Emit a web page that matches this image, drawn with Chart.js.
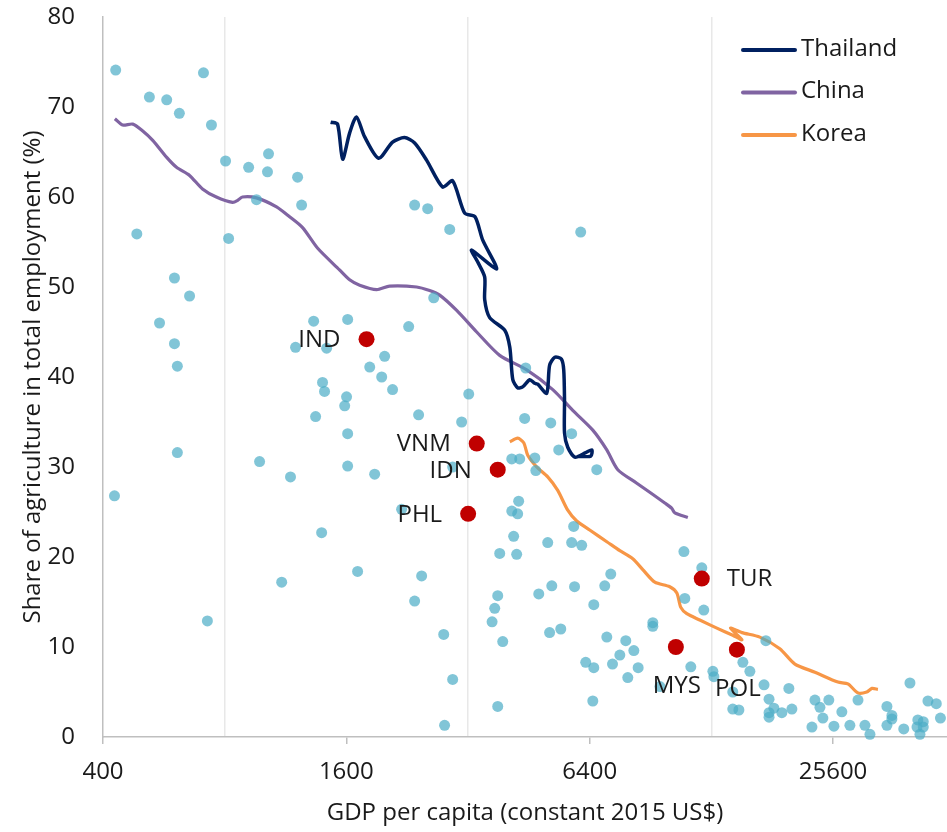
<!DOCTYPE html>
<html>
<head>
<meta charset="utf-8">
<script src="https://cdn.jsdelivr.net/npm/chart.js@4.4.1/dist/chart.umd.min.js"></script>
<style>
    html, body { margin: 0; padding: 0; background: #fff; overflow: hidden; }
    #wrap { width: 947px; height: 832px; position: relative; }
</style>
</head>
<body>
<div id="wrap"><canvas id="myChart"></canvas></div>
<script>
(function() {

    'use strict';

    // other economies (scatter)
    var otherGdp = [430, 521, 575, 618, 709, 742, 804, 917, 1027, 1021,
        1212, 1240, 959, 485, 818, 601, 655, 552, 601, 611,
        611, 427, 725, 1107, 976, 1164, 1328, 1612, 1198, 1430,
        1343, 1390, 1397, 1413, 1602, 1585, 1612, 1612, 1880, 2282,
        2632, 1990, 1828, 1957, 2082, 2415, 2192, 2361, 2543, 2883,
        6081, 3213, 3086, 2932, 4445, 4419, 5127, 5775, 5365, 4106,
        4295, 4682, 4709, 6663, 4270, 4106, 4246, 5842, 4150, 5039,
        5775, 6115, 3833, 4222, 1706, 2457, 2361, 2786, 2932, 2800,
        3790, 3790, 3726, 3670, 3900, 4788, 5157, 5871, 6973, 7216,
        6551, 5093, 5428, 7055, 6257, 6551, 7288, 6514, 10946, 12120,
        11003, 12258, 9170, 9170, 7861, 8230, 7599, 8435, 7951, 9550,
        11386, 12910, 12984, 15316, 15940, 17460, 17280, 17780, 18280, 17780,
        17780, 19125, 19906, 20250, 14460, 14973, 22700, 23090, 23760, 24990,
        24160, 25730, 26920, 28180, 29510, 30700, 31590, 34800, 35800, 35800,
        34800, 39680, 38300, 41500, 42800, 41300, 42800, 42000, 43960, 46100,
        47200, 14460];
    var otherAgri = [74.1, 71.1, 70.8, 69.3, 73.8, 68.0, 64.0, 63.3, 64.8, 62.8,
        62.2, 59.1, 59.7, 55.9, 55.4, 51.0, 49.0, 46.0, 43.7, 41.2,
        31.6, 26.8, 12.9, 17.2, 30.6, 28.9, 46.2, 46.4, 43.3, 43.2,
        35.6, 22.7, 39.4, 38.4, 37.8, 36.8, 33.7, 30.1, 29.2, 45.6,
        48.8, 42.3, 41.1, 40.0, 38.6, 35.8, 25.3, 59.1, 58.7, 56.4,
        56.1, 38.1, 35.0, 30.0, 41.0, 35.4, 34.9, 33.7, 31.9, 30.9,
        30.9, 31.0, 29.6, 29.7, 26.2, 25.1, 24.8, 23.4, 22.3, 21.6,
        21.6, 21.3, 20.4, 20.3, 18.4, 17.9, 15.1, 11.4, 6.4, 1.3,
        3.4, 15.7, 14.3, 12.8, 10.6, 15.9, 16.8, 16.7, 16.8, 18.1,
        14.7, 11.6, 12.0, 11.1, 8.3, 7.7, 8.1, 4.0, 20.6, 18.8,
        15.4, 14.1, 12.7, 12.3, 10.7, 9.6, 9.1, 7.7, 6.6, 5.6,
        7.8, 7.3, 6.7, 8.3, 7.3, 10.7, 5.8, 4.2, 3.2, 2.7,
        2.2, 2.7, 5.4, 3.1, 3.1, 3.0, 1.1, 4.1, 3.3, 4.1,
        2.1, 1.2, 2.8, 1.3, 4.1, 1.3, 0.3, 3.4, 2.4, 2.0,
        1.3, 6.0, 0.9, 1.9, 1.7, 1.1, 1.1, 0.3, 4.0, 3.7,
        2.1, 5.0];

    // highlighted economies
    var redCodes = ['IND', 'VNM', 'IDN', 'PHL', 'TUR', 'MYS', 'POL'];
    var redGdp = [1795, 3363, 3790, 3202, 12120, 10456, 14805];
    var redAgri = [44.2, 32.6, 29.7, 24.8, 17.6, 10.0, 9.7];

    // historical paths
    var thaiGdp = [1463, 1522, 1566, 1630, 1695, 1775, 1923, 2082, 2228, 2361,
        2527, 2770, 2932, 3140, 3330, 3480, 3768, 3265, 3380, 3519,
        3519, 3620, 3945, 4060, 4130, 4246, 4368, 4548, 4680, 4760,
        5010, 5093, 5246, 5446, 5520, 5545, 5545, 5648, 5880, 6257,
        6480, 6440, 6010];
    var thaiAgri = [68.3, 68.1, 64.2, 67.1, 68.9, 66.7, 64.3, 66.1, 66.6, 66.0,
        64.1, 61.1, 61.8, 58.2, 57.8, 55.2, 52.0, 54.1, 52.8, 51.1,
        48.6, 46.6, 45.2, 43.3, 39.7, 38.8, 38.9, 39.7, 39.3, 39.2,
        38.2, 41.3, 42.2, 42.0, 40.8, 37.4, 33.8, 32.2, 31.1, 31.6,
        31.9, 31.2, 31.2];

    var chinaGdp = [428, 447, 474, 500, 531, 575, 608, 655, 705, 763,
        837, 860, 885, 959, 1075, 1158, 1247, 1359, 1539, 1630,
        1726, 1902, 2047, 2388, 2572, 2723, 3000, 3362, 3833, 4471,
        5186, 5810, 6514, 7055, 7512, 8370, 9010, 9817, 10219, 10396,
        11194];
    var chinaAgri = [68.7, 68.0, 68.1, 67.4, 66.3, 64.4, 63.3, 62.4, 60.9, 60.0,
        59.4, 59.6, 60.0, 59.9, 58.9, 57.8, 56.6, 54.3, 51.9, 50.8,
        50.2, 49.7, 50.1, 50.0, 49.6, 49.1, 47.4, 45.0, 42.4, 40.8,
        38.6, 36.3, 34.1, 31.9, 29.7, 28.2, 27.2, 26.0, 25.4, 24.9,
        24.4];

    var koreaGdp = [4060, 4246, 4395, 4497, 4733, 5039, 5335, 5648, 5944, 6400,
        7055, 7599, 8180, 8659, 9276, 10100, 10515, 10755, 11130, 11983,
        13208, 14460, 15236, 14270, 15236, 16870, 18908, 20600, 23090, 26330,
        27860, 29510, 31020, 31950, 33060];
    var koreaAgri = [32.8, 33.2, 32.7, 31.3, 30.0, 28.9, 27.4, 25.2, 24.0, 23.0,
        21.7, 20.7, 19.8, 18.6, 17.2, 16.7, 16.0, 14.4, 13.7, 13.0,
        12.1, 11.3, 10.8, 12.1, 11.6, 11.1, 9.8, 8.1, 7.2, 6.1,
        5.9, 4.9, 5.0, 5.4, 5.3];

    var xTickValues = [400, 800, 1600, 3200, 6400, 12800, 25600];
    var xTickLabels = [400, 1600, 6400, 25600];
    var xGridValues = [800, 3200, 12800];

    // where each code label sits relative to its dot
    var labelPlacement = {
        IND: 'left', VNM: 'left', IDN: 'left', PHL: 'left',
        TUR: 'right', MYS: 'below', POL: 'below'
    };

    function points(xs, ys) {
        return xs.map(function(x, i) { return { x: x, y: ys[i] }; });
    }

    var textColor = '#1a1a1a';
    var fontFamily = "'Open Sans', sans-serif";
    Chart.defaults.font.family = fontFamily;
    Chart.defaults.color = textColor;

    var codeLabels = {
        id: 'codeLabels',
        afterDatasetsDraw: function(chart) {
            var ctx = chart.ctx;
            var meta = chart.getDatasetMeta(0);
            ctx.save();
            ctx.font = '24px ' + fontFamily;
            ctx.fillStyle = textColor;
            ctx.textBaseline = 'middle';
            meta.data.forEach(function(pt, i) {
                var code = redCodes[i];
                var where = labelPlacement[code];
                if (where === 'left') {
                    ctx.textAlign = 'right';
                    ctx.fillText(code, pt.x - 26, pt.y + 1);
                } else if (where === 'right') {
                    ctx.textAlign = 'left';
                    ctx.fillText(code, pt.x + 25, pt.y + 1);
                } else {
                    ctx.textAlign = 'center';
                    ctx.fillText(code, pt.x + 1, pt.y + 39);
                }
            });
            ctx.restore();
        }
    };

    var lineLegend = {
        id: 'lineLegend',
        afterDraw: function(chart) {
            var ctx = chart.ctx;
            var row = 0;
            ctx.save();
            ctx.font = '24px ' + fontFamily;
            ctx.textBaseline = 'middle';
            ctx.textAlign = 'left';
            chart.data.datasets.forEach(function(ds) {
                if (!ds.showLine) return;
                var y = 50 + row * 42.5;
                ctx.strokeStyle = ds.borderColor;
                ctx.lineWidth = 4;
                ctx.lineCap = 'round';
                ctx.beginPath();
                ctx.moveTo(743, y);
                ctx.lineTo(795, y);
                ctx.stroke();
                ctx.fillStyle = textColor;
                ctx.fillText(ds.label, 801, y - 1);
                row++;
            });
            ctx.restore();
        }
    };

    var ctx = document.getElementById('myChart');
    var myChart = new Chart(ctx, {
        type: 'scatter',
        data: {
            datasets: [ {
                label: 'Highlighted',
                data: points(redGdp, redAgri),
                backgroundColor: '#C00000',
                borderWidth: 0,
                pointRadius: 8,
                order: 0,
                clip: false
            }, {
                label: 'Thailand',
                data: points(thaiGdp, thaiAgri),
                showLine: true,
                borderColor: '#002060',
                borderWidth: 3.5,
                pointRadius: 0,
                tension: 0.25,
                order: 2
            }, {
                label: 'China',
                data: points(chinaGdp, chinaAgri),
                showLine: true,
                borderColor: '#8064A2',
                borderWidth: 3.2,
                pointRadius: 0,
                tension: 0.25,
                order: 3
            }, {
                label: 'Korea',
                data: points(koreaGdp, koreaAgri),
                showLine: true,
                borderColor: '#F79646',
                borderWidth: 3.2,
                pointRadius: 0,
                tension: 0.25,
                order: 4
            }, {
                label: 'Other economies',
                data: points(otherGdp, otherAgri),
                backgroundColor: 'rgba(75, 172, 198, 0.7)',
                borderWidth: 0,
                pointRadius: 5.5,
                order: 1,
                clip: false
            } ]
        },
        options: {
            responsive: true,
            maintainAspectRatio: false,
            animation: false,
            events: [],
            layout: {
                autoPadding: false,
                padding: { top: 17, right: 0, bottom: 0, left: 0 }
            },
            plugins: {
                legend: { display: false },
                tooltip: { enabled: false }
            },
            scales: {
                x: {
                    type: 'logarithmic',
                    min: 400,
                    max: 49000,
                    bounds: 'data',
                    afterBuildTicks: function(axis) {
                        axis.ticks = xTickValues.map(function(v) { return { value: v }; });
                    },
                    afterFit: function(axis) {
                        axis.height = 95;
                        axis.paddingLeft = 0;
                        axis.paddingRight = 0;
                    },
                    ticks: {
                        autoSkip: false,
                        maxRotation: 0,
                        padding: 14,
                        font: { size: 24 },
                        callback: function(value) {
                            return xTickLabels.indexOf(value) >= 0 ? String(value) : '';
                        }
                    },
                    grid: {
                        lineWidth: 1.5,
                        tickLength: 7,
                        color: function(c) {
                            return c.tick && xGridValues.indexOf(c.tick.value) >= 0 ? '#E8E8E8' : 'rgba(0,0,0,0)';
                        },
                        tickColor: function(c) {
                            return c.tick && xTickLabels.indexOf(c.tick.value) >= 0 ? '#BFBFBF' : 'rgba(0,0,0,0)';
                        }
                    },
                    border: { color: '#BFBFBF', width: 1.5 },
                    title: {
                        display: true,
                        text: 'GDP per capita (constant 2015 US$)',
                        font: { size: 24 },
                        padding: { top: 0, bottom: 4 }
                    }
                },
                y: {
                    min: 0,
                    max: 80,
                    afterFit: function(axis) {
                        axis.width = 103;
                        axis.paddingTop = 0;
                        axis.paddingBottom = 0;
                    },
                    ticks: {
                        stepSize: 10,
                        padding: 28,
                        font: { size: 24 }
                    },
                    grid: { display: false, drawTicks: false },
                    border: { color: '#BFBFBF', width: 1.5 },
                    title: {
                        display: true,
                        text: 'Share of agriculture in total employment (%)',
                        font: { size: 24 },
                        padding: { top: 19, bottom: 0 }
                    }
                }
            }
        },
        plugins: [ codeLabels, lineLegend ]
    });

})();
</script>
</body>
</html>
